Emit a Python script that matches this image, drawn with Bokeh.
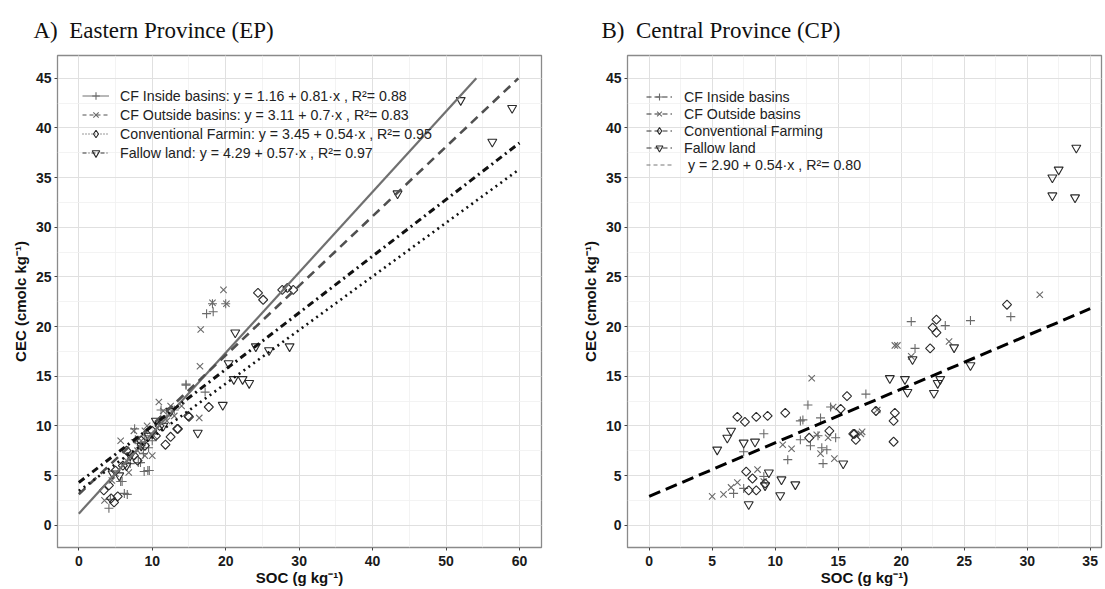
import numpy as np
from bokeh.plotting import figure
from bokeh.models import Range1d, SingleIntervalTicker, Legend, LegendItem
from bokeh.layouts import row
from bokeh.embed import file_html
from bokeh.resources import INLINE

# ---------------- data: Eastern Province (EP) ----------------
ep_in_soc = [4.1, 4.3, 5.7, 5.9, 6.2, 6.6, 7.0, 7.6, 8.1, 8.4, 8.8, 8.9, 9.4, 9.6, 7.7, 8.5, 9.0, 10.0,
             11.2, 11.0, 12.0, 13.0, 14.6, 14.6, 17.2, 17.4, 18.3, 18.2, 20.0, 9.5]
ep_in_cec = [1.7, 2.6, 4.4, 4.4, 3.2, 3.1, 6.2, 9.7, 6.3, 6.3, 7.2, 5.4, 5.5, 5.5, 8.6, 8.0, 9.0, 8.5,
             11.6, 10.5, 11.0, 11.6, 14.2, 14.1, 13.4, 21.3, 21.5, 22.3, 22.3, 7.8]
ep_out_soc = [3.5, 4.5, 5.0, 5.7, 6.0, 6.8, 7.0, 7.5, 8.0, 8.5, 9.0, 9.3, 10.0, 10.2, 10.9, 11.0, 11.5,
              12.0, 12.5, 13.0, 14.0, 16.4, 16.5, 16.6, 18.2, 19.7, 20.1, 6.5, 9.0]
ep_out_cec = [2.5, 4.5, 5.2, 8.5, 6.0, 5.3, 7.0, 9.5, 7.5, 8.5, 7.0, 10.0, 7.0, 9.0, 12.4, 10.0, 11.5,
              10.5, 12.0, 11.0, 12.0, 10.8, 16.0, 19.7, 22.4, 23.7, 22.3, 6.5, 9.5]
ep_conv_soc = [3.4, 4.1, 4.4, 4.8, 5.3, 5.0, 6.0, 6.5, 7.5, 8.5, 9.0, 10.0, 10.5, 11.8, 12.5, 13.4, 13.5,
               14.9, 15.0, 17.7, 24.4, 25.1, 27.7, 28.4, 29.2, 8.0, 11.0]
ep_conv_cec = [3.5, 4.0, 2.7, 2.3, 2.9, 5.5, 6.0, 7.5, 7.0, 8.5, 8.0, 9.5, 9.0, 8.1, 8.9, 9.7, 9.7,
               11.0, 10.9, 11.9, 23.4, 22.7, 23.7, 23.9, 23.7, 6.5, 10.0]
ep_fal_soc = [4.6, 5.5, 7.0, 8.5, 10.5, 11.5, 12.5, 16.2, 19.6, 20.4, 21.1, 21.3, 22.3, 23.2, 24.1, 25.9,
              28.7, 43.4, 52.0, 56.3, 59.0, 6.5, 9.5]
ep_fal_cec = [5.2, 5.0, 7.0, 8.0, 10.5, 10.0, 11.5, 9.3, 12.1, 16.3, 14.7, 19.4, 14.7, 14.3, 18.0, 17.6,
              18.0, 33.4, 42.8, 38.6, 42.0, 6.0, 9.0]

ep_labels = ["CF Inside basins: y = 1.16 + 0.81\u00b7x , R\u00b2= 0.88",
             "CF Outside basins: y = 3.11 + 0.7\u00b7x , R\u00b2= 0.83",
             "Conventional Farmin: y = 3.45 + 0.54\u00b7x , R\u00b2= 0.95",
             "Fallow land: y = 4.29 + 0.57\u00b7x , R\u00b2= 0.97"]
ep_intercepts = [1.16, 3.11, 3.45, 4.29]
ep_slopes = [0.81, 0.70, 0.54, 0.57]
ep_fit_domain = [0, 60]
cec_limits = [0, 45]

# ---------------- data: Central Province (CP) ----------------
cp_in_soc = [6.7, 7.5, 7.5, 9.1, 9.1, 11.0, 12.0, 12.0, 12.2, 12.6, 12.8, 13.6, 13.7, 13.8, 14.1, 14.4,
             14.8, 17.2, 20.8, 21.1, 23.5, 25.5, 28.7, 13.4]
cp_in_cec = [3.2, 3.7, 7.4, 4.9, 9.2, 6.6, 8.6, 10.5, 10.6, 12.1, 8.0, 10.8, 7.8, 6.2, 7.6, 11.9,
             8.8, 13.2, 20.5, 17.8, 20.1, 20.6, 21.0, 9.0]
cp_out_soc = [5.0, 5.9, 6.5, 7.0, 8.6, 9.1, 10.6, 11.3, 12.9, 13.3, 13.6, 14.6, 14.7, 16.8, 16.9, 18.1,
              19.5, 19.7, 20.8, 23.8, 31.0, 14.2]
cp_out_cec = [2.9, 3.1, 3.8, 4.3, 5.6, 4.4, 8.1, 7.7, 14.8, 9.1, 7.2, 11.9, 6.7, 9.2, 9.4, 11.6,
              18.1, 18.1, 17.0, 18.5, 23.2, 8.8]
cp_conv_soc = [7.0, 7.6, 7.7, 7.9, 8.2, 8.5, 8.5, 9.2, 9.4, 10.8, 12.7, 14.3, 15.2, 15.7, 16.2, 16.3,
               16.4, 18.0, 19.4, 19.4, 19.5, 22.3, 22.5, 22.8, 22.8, 28.4]
cp_conv_cec = [10.9, 10.4, 5.4, 3.5, 4.7, 3.5, 10.9, 4.2, 11.0, 11.3, 8.8, 9.5, 11.7, 13.0, 9.2, 9.2,
               8.6, 11.5, 10.5, 8.4, 11.3, 17.8, 19.9, 19.4, 20.7, 22.2]
cp_fal_soc = [5.4, 6.2, 6.5, 7.5, 7.9, 8.4, 9.2, 9.5, 10.4, 10.5, 11.6, 15.4, 19.1, 20.3, 20.5, 20.9,
              22.6, 22.9, 23.1, 24.2, 25.5, 32.0, 32.0, 32.5, 33.8, 33.9]
cp_fal_cec = [7.6, 8.8, 9.5, 8.3, 2.1, 8.4, 4.0, 5.3, 3.0, 4.6, 4.1, 6.2, 14.8, 14.7, 13.4, 16.7,
              13.3, 14.3, 14.7, 17.9, 16.1, 33.2, 35.0, 35.8, 33.0, 38.0]

cp_labels = ["CF Inside basins", "CF Outside basins", "Conventional Farming", "Fallow land",
             "\u00a0y = 2.90 + 0.54\u00b7x , R\u00b2= 0.80"]
cp_intercept = 2.90
cp_slope = 0.54
cp_fit_domain = [0, 35]

# ---------------- styling ----------------
GREY_MK = "#6a6a6a"
DARK_MK = "#2a2a2a"
FONT = "Liberation Sans"
NO_DATA = [np.nan]   # legend-only renderers draw nothing in the plot area


def base_fig(width, bl, br, xr, yr, xint, title):
    p = figure(width=width, height=589, x_range=xr, y_range=yr, output_backend="svg",
               toolbar_location=None, min_border_left=bl, min_border_right=br,
               min_border_top=55, min_border_bottom=42, title=title)
    p.title.text_font = "Liberation Serif"
    p.title.text_font_size = "23px"
    p.title.text_font_style = "normal"
    p.title.text_color = "#111111"
    p.title.align = "left"
    p.title.standoff = 26
    p.xaxis.ticker = SingleIntervalTicker(interval=xint, num_minor_ticks=2)
    p.yaxis.ticker = SingleIntervalTicker(interval=5, num_minor_ticks=2)
    p.outline_line_color = "#8a8a8a"
    p.outline_line_width = 1.3
    p.grid.grid_line_color = "#e0e0e0"
    p.grid.grid_line_width = 1
    p.grid.minor_grid_line_color = "#f0f0f0"
    p.grid.minor_grid_line_width = 0.8
    p.axis.axis_line_color = None
    p.axis.major_tick_line_color = "#444444"
    p.axis.major_tick_out = 3
    p.axis.major_tick_in = 0
    p.axis.minor_tick_line_color = None
    p.axis.major_label_text_font = FONT
    p.axis.major_label_text_font_style = "bold"
    p.axis.major_label_text_font_size = "14px"
    p.axis.major_label_text_color = "#1a1a1a"
    p.yaxis.major_label_standoff = 2
    p.xaxis.major_label_standoff = 4
    p.axis.axis_label_text_font = FONT
    p.axis.axis_label_text_font_style = "bold"
    p.axis.axis_label_text_font_size = "15px"
    p.axis.axis_label_text_color = "#111111"
    p.yaxis.axis_label_standoff = 4
    p.xaxis.axis_label_standoff = 0
    p.xaxis.axis_label = "SOC (g kg\u207b\u00b9)"
    p.yaxis.axis_label = "CEC (cmolc kg\u207b\u00b9)"
    return p


def add_points(p, xs, ys, marker, color, legend_only=False):
    if marker == "diamond":
        if legend_only:
            return p.scatter(xs, ys, marker="diamond", size=9, fill_color=None,
                             line_color=color, line_width=1.1)
        return p.scatter(xs, ys, marker="square", angle=np.pi / 4, size=6.4, fill_color=None,
                         line_color=color, line_width=1.1)
    return p.scatter(xs, ys, marker=marker, size=9, fill_color=None, line_color=color, line_width=1.1)


markers = ["cross", "x", "diamond", "inverted_triangle"]
mk_colors = [GREY_MK, GREY_MK, DARK_MK, DARK_MK]

# ---------------- panel A ----------------
pA = base_fig(548, 57, 7, Range1d(-2.9, 63.0), Range1d(-2.25, 47.3), 10,
              "A)\u00a0 Eastern Province (EP)")
pA.title.offset = -24

ep_x = [ep_in_soc, ep_out_soc, ep_conv_soc, ep_fal_soc]
ep_y = [ep_in_cec, ep_out_cec, ep_conv_cec, ep_fal_cec]
line_styles = [dict(line_color="#707070", line_width=2.2, line_dash="solid"),
               dict(line_color="#505050", line_width=2.6, line_dash="9 6"),
               dict(line_color="#111111", line_width=2.6, line_dash="2 4"),
               dict(line_color="#111111", line_width=3.0, line_dash="7 4 2 4")]
legend_styles = [dict(line_color="#707070", line_width=1, line_dash="solid"),
                 dict(line_color="#505050", line_width=1, line_dash="4 3"),
                 dict(line_color="#333333", line_width=1, line_dash="1 2"),
                 dict(line_color="#333333", line_width=1, line_dash="4 2 1 2")]

items = []
for i in range(4):
    add_points(pA, ep_x[i], ep_y[i], markers[i], mk_colors[i])
for i in range(4):
    a, b = ep_intercepts[i], ep_slopes[i]
    x_end = min(ep_fit_domain[1], (cec_limits[1] - a) / b)
    xs = np.array([ep_fit_domain[0], x_end])
    pA.line(xs, a + b * xs, **line_styles[i])
for i in range(4):
    lr = pA.line(NO_DATA, NO_DATA, **legend_styles[i])
    sr = add_points(pA, NO_DATA, NO_DATA, markers[i], mk_colors[i], legend_only=True)
    items.append(LegendItem(label=ep_labels[i], renderers=[lr, sr]))

legA = Legend(items=items, location=(25, 385), background_fill_alpha=0, border_line_color=None,
              label_text_font=FONT, label_text_font_size="14.2px", label_text_color="#222222",
              glyph_width=27, glyph_height=19, label_height=19, spacing=0, padding=0, margin=0,
              label_standoff=11)
pA.add_layout(legA)

# ---------------- panel B ----------------
pB = base_fig(557, 79, 4, Range1d(-1.72, 35.9), Range1d(-2.25, 47.3), 5,
              "B)\u00a0 Central Province (CP)")
pB.title.offset = -26

cp_x = [cp_in_soc, cp_out_soc, cp_conv_soc, cp_fal_soc]
cp_y = [cp_in_cec, cp_out_cec, cp_conv_cec, cp_fal_cec]
for i in range(4):
    add_points(pB, cp_x[i], cp_y[i], markers[i], mk_colors[i])
xs = np.array(cp_fit_domain, dtype=float)
pB.line(xs, cp_intercept + cp_slope * xs, line_color="black", line_width=3, line_dash="12 6")

itemsB = []
for i in range(4):
    lr = pB.line(NO_DATA, NO_DATA, line_color="#333333", line_width=1, line_dash="5 3")
    sr = add_points(pB, NO_DATA, NO_DATA, markers[i], mk_colors[i], legend_only=True)
    itemsB.append(LegendItem(label=cp_labels[i], renderers=[lr, sr]))
lr = pB.line(NO_DATA, NO_DATA, line_color="#777777", line_width=1, line_dash="4 3")
itemsB.append(LegendItem(label=cp_labels[4], renderers=[lr]))

legB = Legend(items=itemsB, location=(19, 374), background_fill_alpha=0, border_line_color=None,
              label_text_font=FONT, label_text_font_size="14.2px", label_text_color="#222222",
              glyph_width=26, glyph_height=17, label_height=17, spacing=0, padding=0, margin=0,
              label_standoff=12)
pB.add_layout(legB)

layout = row(pA, pB)
open("out.html", "w").write(file_html(layout, INLINE))
